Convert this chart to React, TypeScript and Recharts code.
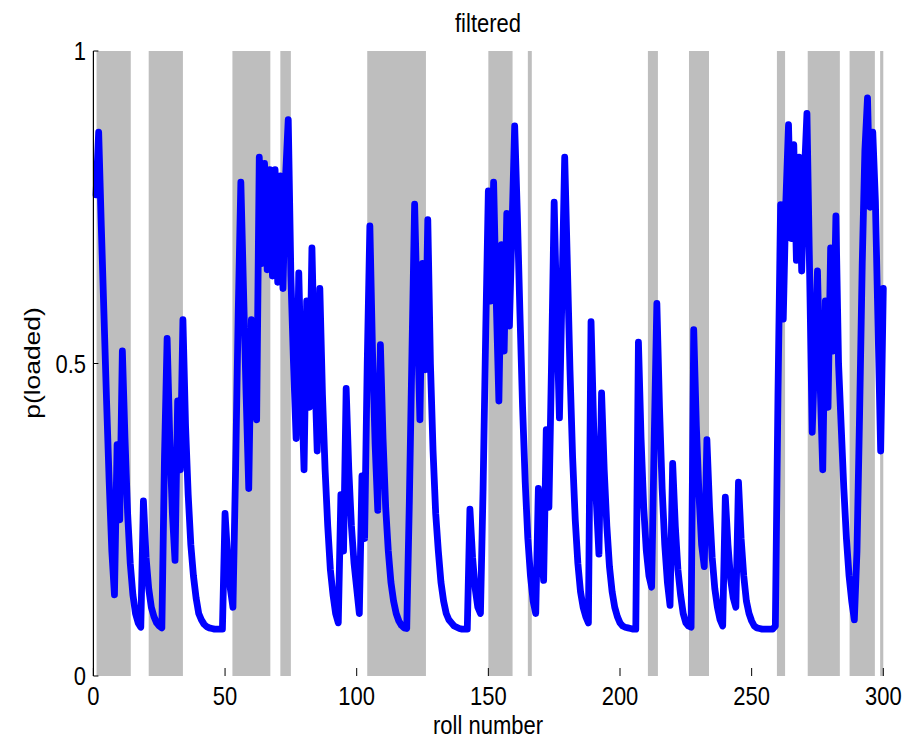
import { LineChart, Line, XAxis, YAxis, ReferenceArea } from "recharts";

// filtered probability that the die is loaded, rolls 1..300
const pLoaded = [
  0.77, 0.87, 0.72, 0.58, 0.44, 0.31, 0.2, 0.13, 0.37, 0.25,
  0.52, 0.38, 0.26, 0.18, 0.13, 0.1, 0.085, 0.078, 0.28, 0.19,
  0.14, 0.11, 0.095, 0.085, 0.08, 0.077, 0.35, 0.54, 0.38, 0.26,
  0.185, 0.44, 0.33, 0.57, 0.4, 0.29, 0.21, 0.16, 0.125, 0.1,
  0.09, 0.083, 0.079, 0.077, 0.076, 0.075, 0.075, 0.075, 0.075, 0.26,
  0.19, 0.14, 0.11, 0.33, 0.58, 0.79, 0.62, 0.45, 0.3, 0.57,
  0.47, 0.41, 0.83, 0.66, 0.82, 0.65, 0.81, 0.64, 0.81, 0.63,
  0.8, 0.62, 0.8, 0.89, 0.64, 0.5, 0.38, 0.645, 0.47, 0.33,
  0.6, 0.43, 0.685, 0.5, 0.36, 0.62, 0.45, 0.33, 0.24, 0.17,
  0.13, 0.1, 0.085, 0.29, 0.2, 0.46, 0.33, 0.24, 0.18, 0.14,
  0.1, 0.32, 0.22, 0.5, 0.72, 0.52, 0.37, 0.265, 0.53, 0.38,
  0.27, 0.2, 0.15, 0.12, 0.1, 0.088, 0.081, 0.077, 0.076, 0.28,
  0.52, 0.755, 0.58, 0.41, 0.66, 0.49, 0.73, 0.5, 0.36, 0.26,
  0.2, 0.15, 0.12, 0.1, 0.09, 0.085, 0.08, 0.078, 0.076, 0.075,
  0.075, 0.075, 0.267, 0.19, 0.14, 0.11, 0.1, 0.3, 0.55, 0.776,
  0.6, 0.79, 0.6, 0.44, 0.69, 0.52, 0.74, 0.56, 0.72, 0.88,
  0.74, 0.58, 0.43, 0.31, 0.22, 0.16, 0.12, 0.1, 0.3, 0.21,
  0.153, 0.394, 0.27, 0.5, 0.758, 0.57, 0.413, 0.62, 0.83, 0.66,
  0.49, 0.35, 0.25, 0.18, 0.135, 0.11, 0.095, 0.085, 0.567, 0.4,
  0.28, 0.195, 0.453, 0.33, 0.24, 0.175, 0.135, 0.11, 0.095, 0.085,
  0.08, 0.078, 0.077, 0.076, 0.075, 0.075, 0.534, 0.38, 0.27, 0.2,
  0.16, 0.142, 0.38, 0.596, 0.43, 0.3, 0.21, 0.15, 0.113, 0.34,
  0.24, 0.17, 0.13, 0.1, 0.085, 0.08, 0.078, 0.554, 0.4, 0.29,
  0.21, 0.175, 0.378, 0.27, 0.19, 0.14, 0.11, 0.09, 0.08, 0.286,
  0.21, 0.155, 0.125, 0.11, 0.31, 0.22, 0.16, 0.12, 0.1, 0.088,
  0.08, 0.077, 0.076, 0.075, 0.075, 0.075, 0.075, 0.075, 0.08, 0.45,
  0.754, 0.571, 0.76, 0.882, 0.7, 0.85, 0.665, 0.83, 0.648, 0.8,
  0.9, 0.65, 0.39, 0.52, 0.648, 0.47, 0.33, 0.6, 0.43, 0.685,
  0.52, 0.736, 0.5, 0.4, 0.3, 0.22, 0.16, 0.12, 0.09, 0.2,
  0.42, 0.66, 0.84, 0.925, 0.75, 0.87, 0.76, 0.56, 0.36, 0.62,
];

// stretches of rolls made with the loaded die (grey bands)
const loadedSpans: [number, number][] = [
  [1.2, 14.2], [21, 34], [52.8, 67.2], [71, 75], [104, 126.3],
  [150, 159.2], [165, 166.5], [210.6, 214.4], [226.2, 233.8],
  [259.6, 262.7], [271.3, 283.5], [287.2, 296.8], [298.8, 300],
];

const xTicks = [0, 50, 100, 150, 200, 250, 300];
const yTicks = [0, 0.5, 1];
const yTickLabels: Record<number, string> = { 0: "0", 0.5: "0.5", 1: "1" };

const data = pLoaded.map((p, i) => ({ roll: i + 1, p }));

const FONT = "'Liberation Sans', Arial, Helvetica, sans-serif";
const FS = 22;
const SY = 1.2;
const PLOT_LEFT = 93.4;
const PLOT_BOTTOM = 676;

// tick labels + small inward tick marks (matlab style)
function XTick(props: any) {
  const { x, payload } = props;
  return (
    <g>
      <line x1={x} x2={x} y1={PLOT_BOTTOM} y2={PLOT_BOTTOM - 8} stroke="#000" strokeWidth={1} />
      <text
        transform={`translate(${x},705) scale(1,${SY})`}
        textAnchor="middle"
        fontFamily={FONT}
        fontSize={FS}
        fill="#000"
      >
        {payload.value}
      </text>
    </g>
  );
}

function YTick(props: any) {
  const { y, payload } = props;
  const dy = 0.358 * FS * SY;
  return (
    <g>
      <line x1={PLOT_LEFT} x2={PLOT_LEFT + 5} y1={y} y2={y} stroke="#000" strokeWidth={1} />
      <text
        transform={`translate(86,${y + dy}) scale(1,${SY})`}
        textAnchor="end"
        fontFamily={FONT}
        fontSize={FS}
        fill="#000"
      >
        {yTickLabels[payload.value] ?? payload.value}
      </text>
    </g>
  );
}

export default function App() {
  return (
    <div style={{ position: "relative", width: 908, height: 740, background: "#fff" }}>
      <style>{"body{margin:0}"}</style>
      <LineChart
        width={908}
        height={740}
        data={data}
        margin={{ top: 51, right: 24.7, bottom: 34, left: 33.4 }}
      >
        {loadedSpans.map(([a, b], i) => (
          <ReferenceArea
            key={`span-${i}`}
            x1={a}
            x2={b}
            y1={0}
            y2={1}
            fill="#bebebe"
            fillOpacity={1}
            stroke="none"
          />
        ))}
        <XAxis
          type="number"
          dataKey="roll"
          domain={[0, 300]}
          ticks={xTicks}
          height={30}
          axisLine={false}
          tickLine={false}
          tick={<XTick />}
        />
        <YAxis
          type="number"
          domain={[0, 1]}
          ticks={yTicks}
          width={60}
          axisLine={{ stroke: "#000", strokeWidth: 1.2 }}
          tickLine={false}
          tick={<YTick />}
        />
        <Line
          type="linear"
          dataKey="p"
          stroke="#0000ff"
          strokeWidth={6.8}
          strokeLinejoin="round"
          strokeLinecap="round"
          dot={false}
          isAnimationActive={false}
        />
      </LineChart>
      <svg
        width={908}
        height={740}
        style={{ position: "absolute", left: 0, top: 0, pointerEvents: "none" }}
      >
        <text
          transform={`translate(488,32) scale(1,${SY})`}
          textAnchor="middle"
          fontFamily={FONT}
          fontSize={FS}
          fill="#000"
        >
          filtered
        </text>
        <text
          transform={`translate(488,734) scale(1,${SY})`}
          textAnchor="middle"
          fontFamily={FONT}
          fontSize={FS}
          fill="#000"
        >
          roll number
        </text>
        <text
          transform={`translate(40,363) rotate(-90) scale(${SY},1)`}
          textAnchor="middle"
          fontFamily={FONT}
          fontSize={FS}
          fill="#000"
        >
          p(loaded)
        </text>
      </svg>
    </div>
  );
}
